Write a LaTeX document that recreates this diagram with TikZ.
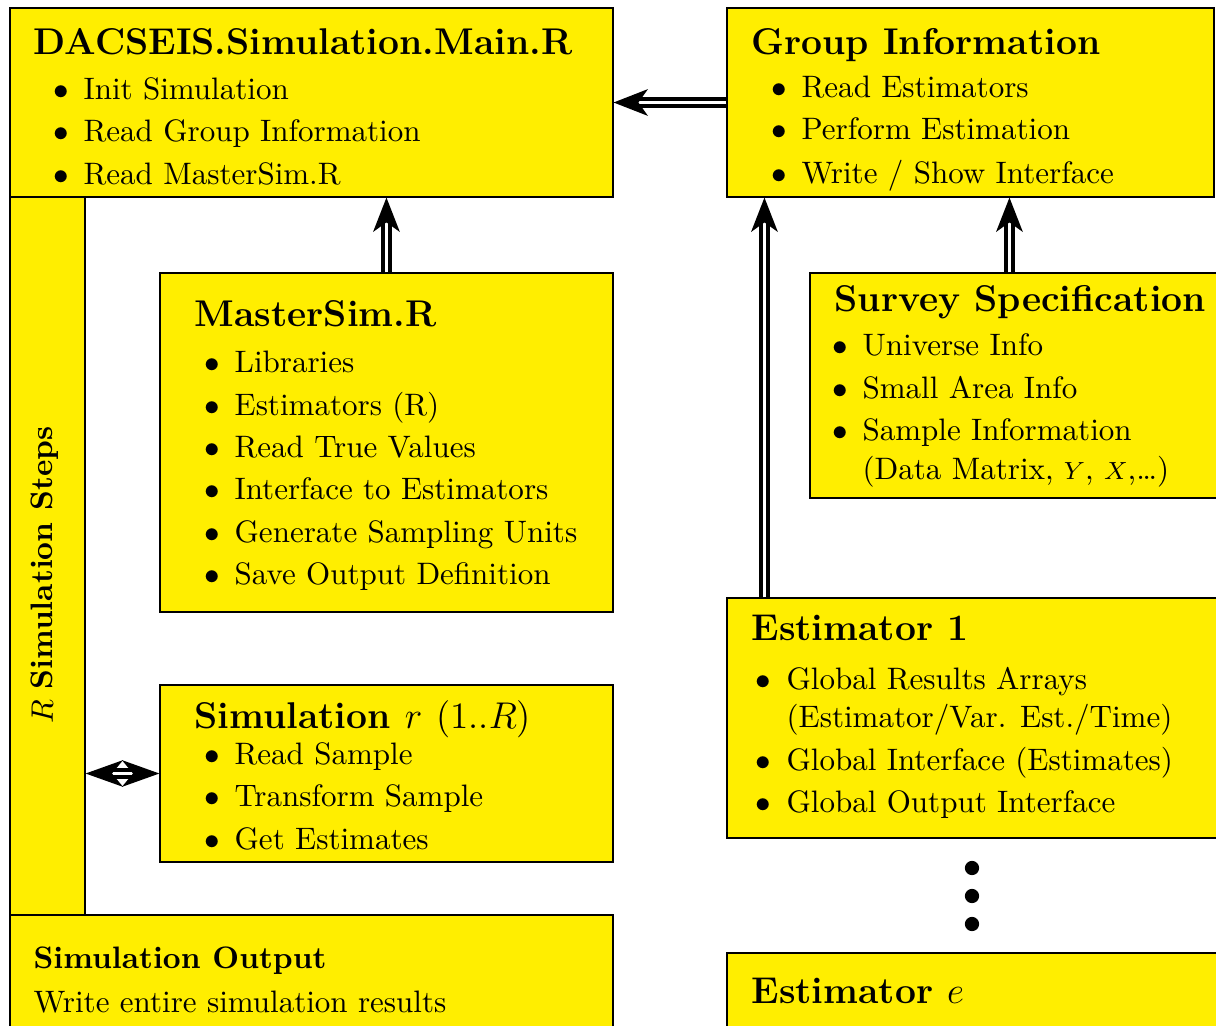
\documentclass[tikz,border=0pt]{standalone}
\usetikzlibrary{arrows.meta,fit,calc}
\definecolor{yel}{RGB}{255,238,0}
\begin{document}
\begin{tikzpicture}[x=0.3223pt,y=-0.3223pt,
  box/.style={draw=black,fill=yel,inner sep=0pt,line width=0.35pt},
  ttl/.style={anchor=base west,inner sep=0pt,font=\large\bfseries},
  txt/.style={anchor=base west,inner sep=0pt},
  bul/.style={anchor=base,inner sep=0pt},
  dbl/.style={draw=black,line width=1.3pt,double=white,double distance=1pt,
    -{Stealth[length=11pt,width=8.5pt,inset=3pt]}},
  dbl2/.style={draw=black,line width=1.3pt,double=white,double distance=1pt,
    {Stealth[length=12pt,width=8.5pt,inset=3.5pt]}-{Stealth[length=12pt,width=8.5pt,inset=3.5pt]}},
  dot/.style={circle,fill=black,inner sep=0pt,minimum size=4.6pt}]
\useasboundingbox (0,0) rectangle (1216,1026);
\clip (0,0) rectangle (1216,1026);
% boxes
\node[box,fit={(10,8)(613,197)}] (main) {};
\node[box,fit={(727,8)(1214,197)}] (grp) {};
\node[box,fit={(10,197)(85,915)}] (bar) {};
\node[box,fit={(160,273)(613,612)}] (master) {};
\node[box,fit={(160,685)(613,862)}] (sim) {};
\node[box,fit={(10,915)(613,1040)}] (out) {};
\node[box,fit={(810,273)(1230,498)}] (survey) {};
\node[box,fit={(727,598)(1230,838)}] (est1) {};
\node[box,fit={(727,953)(1230,1040)}] (este) {};
% main text
\node[ttl] (mt) at (33,55) {DACSEIS.Simulation.Main.R};
\foreach \y/\t [count=\i] in {99/{Init Simulation},141/{Read Group Information},184/{Read MasterSim.R}}{
  \node[bul] (mb\i) at (61,\y) {$\bullet$};
  \node[txt] (mx\i) at (83,\y) {\t};}
% group text
\node[ttl] (gt) at (751,55) {Group Information};
\foreach \y/\t [count=\i] in {98/{Read Estimators},140/{Perform Estimation},183/{Write / Show Interface}}{
  \node[bul] (gb\i) at (779,\y) {$\bullet$};
  \node[txt] (gx\i) at (801,\y) {\t};}
% master text
\node[ttl] (mst) at (194,326) {MasterSim.R};
\foreach \y/\t [count=\i] in {372/{Libraries},415/{Estimators (R)},457/{Read True Values},499/{Interface to Estimators},542/{Generate Sampling Units},584/{Save Output Definition}}{
  \node[bul] (msb\i) at (212,\y) {$\bullet$};
  \node[txt] (msx\i) at (234,\y) {\t};}
% simulation r
\node[ttl] (st) at (194,728) {Simulation $r$ \textmd{(1..$R$)}};
\foreach \y/\t [count=\i] in {764/{Read Sample},806/{Transform Sample},849/{Get Estimates}}{
  \node[bul] (sb\i) at (212,\y) {$\bullet$};
  \node[txt] (sx\i) at (234,\y) {\t};}
% vertical
\node[rotate=90,inner sep=0pt] (vt) at (45,575) {$R$ \textbf{Simulation Steps}};
% output
\node[txt,font=\bfseries] (ot) at (33,968) {Simulation Output};
\node[txt] (ox) at (33,1012) {Write entire simulation results};
% survey
\node[ttl] (svt) at (834,311) {Survey Specification};
\foreach \y/\t [count=\i] in {355/{Universe Info},398/{Small Area Info},440/{Sample Information}}{
  \node[bul] (svb\i) at (840,\y) {$\bullet$};
  \node[txt] (svx\i) at (862,\y) {\t};}
\node[txt] (svx4) at (862,479) {(Data Matrix, {\footnotesize$Y$}, {\footnotesize$X$},\ldots)};
% estimator 1
\node[ttl] (et) at (751,640) {Estimator 1};
\node[bul] (eb1) at (763,689) {$\bullet$};
\node[txt] (ex1) at (786,689) {Global Results Arrays};
\node[txt] (ex1b) at (786,727) {(Estimator/Var. Est./Time)};
\node[bul] (eb2) at (763,770) {$\bullet$};
\node[txt] (ex2) at (786,770) {Global Interface (Estimates)};
\node[bul] (eb3) at (763,812) {$\bullet$};
\node[txt] (ex3) at (786,812) {Global Output Interface};
% dots
\node[dot] (d1) at (972,868) {};
\node[dot] (d2) at (972,896) {};
\node[dot] (d3) at (972,924) {};
% estimator e
\node[ttl] (eet) at (751,1003) {Estimator $e$};
% arrows
\coordinate (ma) at ($(master.north west)+(227,0)$);
\coordinate (ea) at ($(est1.north west)+(38,0)$);
\coordinate (sa) at ($(survey.north west)+(200,0)$);
\draw[dbl] (grp.west) -- (main.east);
\draw[dbl] (ma) -- (ma |- main.south);
\draw[dbl] (ea) -- (ea |- grp.south);
\draw[dbl] (sa) -- (sa |- grp.south);
\draw[dbl2] (bar.east |- sim.west) -- (sim.west);
\end{tikzpicture}
\end{document}
